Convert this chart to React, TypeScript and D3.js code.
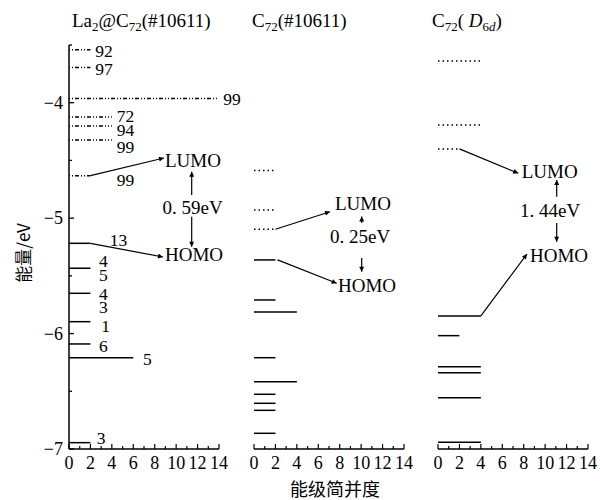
import * as d3 from "d3";

// energy levels: energy (eV), degeneracy, occupied?
const laLevelsE = [-3.542, -3.696, -3.964, -4.123, -4.201, -4.322, -4.632, -5.218, -5.434, -5.651, -5.897, -6.09, -6.209, -6.945];
const laLevelsG = [2, 2, 14, 4, 4, 4, 2, 2, 2, 2, 2, 2, 6, 2];
const laLevelsOcc = [false, false, false, false, false, false, false, true, true, true, true, true, true, true];

const c72LevelsE = [-4.588, -4.929, -5.096, -5.362, -5.709, -5.813, -6.209, -6.417, -6.526, -6.604, -6.665, -6.864];
const c72LevelsG = [2, 2, 2, 2, 2, 4, 2, 4, 2, 2, 2, 2];
const c72LevelsOcc = [false, false, false, true, true, true, true, true, true, true, true, true];

const d6dLevelsE = [-3.638, -4.192, -4.4, -5.847, -6.018, -6.287, -6.339, -6.555, -6.942];
const d6dLevelsG = [4, 4, 2, 4, 2, 4, 4, 4, 4];
const d6dLevelsOcc = [false, false, false, true, true, true, true, true, true];

// numbers written beside the La2@C72 levels (text, degeneracy axis pos, energy)
const laLabelText = ["92", "97", "99", "72", "94", "99", "99", "13", "4", "5", "4", "3", "1", "6", "5", "3"];
const laLabelG = [2.45, 2.45, 14.4, 4.45, 4.45, 4.45, 4.45, 3.8, 2.8, 2.8, 2.8, 2.8, 3.0, 2.8, 6.9, 2.6];
const laLabelE = [-3.551, -3.707, -3.967, -4.114, -4.236, -4.379, -4.669, -5.185, -5.367, -5.492, -5.653, -5.767, -5.932, -6.103, -6.216, -6.9];

const gapText = ["0. 59eV", "0. 25eV", "1. 44eV"];
const lumoIndex = [6, 2, 2];
const homoIndex = [7, 3, 3];

const xTicks = [0, 2, 4, 6, 8, 10, 12, 14];
const yTicks = [-7, -6, -5, -4];

const panelX0 = [69, 254, 438];
const panelW = 150;

const serif = "'Liberation Serif', 'DejaVu Serif', serif";
const cjk = "'Noto Sans CJK SC', sans-serif";

const y = d3.scaleLinear().domain([-7, -3.5]).range([449, 45]);
const xs = panelX0.map(x0 => d3.scaleLinear().domain([0, 14]).range([x0, x0 + panelW]));

const panels = [
  { e: laLevelsE, g: laLevelsG, occ: laLevelsOcc, dash: "1,2,1,2,4,2" },
  { e: c72LevelsE, g: c72LevelsG, occ: c72LevelsOcc, dash: "1.5,3" },
  { e: d6dLevelsE, g: d6dLevelsG, occ: d6dLevelsOcc, dash: "1.5,3" },
];

// where the LUMO / gap / HOMO annotations sit (pixels)
const notes = [
  { lumo: [165, 166.5], lumoTip: [164, 158], homo: [165, 261], homoTip: [163, 257], gap: [162.5, 214], ax: 191.7, up: [195, 171.7], down: [216.7, 246.7], homoFromG: 2, lumoFromG: 2 },
  { lumo: [335, 210], lumoTip: [330, 211.7], homo: [338, 291.5], homoTip: [336.7, 283.3], gap: [330, 243], ax: 361.7, up: [223, 216.5], down: [258, 271.7], homoFromG: 2.2, lumoFromG: 2 },
  { lumo: [521.7, 178], lumoTip: [518.3, 173.3], homo: [530, 261.5], homoTip: [527, 254], gap: [520, 216.7], ax: 556.7, up: [196.7, 180], down: [223, 241.7], homoFromG: 4, lumoFromG: 2 },
];

const App = () => {
  return (
    <svg width={600} height={500} style={{ position: "absolute", left: 0, top: 0, background: "#fff" }}>
      <defs>
        <marker id="ah" viewBox="0 0 10 10" refX="10" refY="5" markerWidth="8" markerHeight="5"
          markerUnits="userSpaceOnUse" orient="auto">
          <path d="M0,0 L10,5 L0,10 z" fill="#000" />
        </marker>
      </defs>

      {/* titles */}
      <text x={72} y={27} fontFamily={serif} fontSize={19}>
        La<tspan fontSize={13} dy={4}>2</tspan><tspan dy={-4}>@C</tspan>
        <tspan fontSize={13} dy={4}>72</tspan><tspan dy={-4}>(#10611)</tspan>
      </text>
      <text x={252} y={27} fontFamily={serif} fontSize={19}>
        C<tspan fontSize={13} dy={4}>72</tspan><tspan dy={-4}>(#10611)</tspan>
      </text>
      <text x={432} y={27} fontFamily={serif} fontSize={19}>
        C<tspan fontSize={13} dy={4}>72</tspan><tspan dy={-4}>( </tspan>
        <tspan fontStyle="italic">D</tspan>
        <tspan fontSize={13} dy={4}>6</tspan><tspan fontSize={13} fontStyle="italic">d</tspan>
        <tspan dy={-4}>)</tspan>
      </text>

      {/* y axis (left panel only) */}
      <line x1={69} x2={69} y1={y(-7)} y2={y(-3.5)} stroke="#000" strokeWidth={1.5} />
      {d3.range(-7, -3.4, 0.5).map(t => (
        <line key={t} x1={69} x2={Number.isInteger(t) ? 74 : 72} y1={y(t)} y2={y(t)} stroke="#000" strokeWidth={1.3} />
      ))}
      {yTicks.map(t => (
        <text key={t} x={63} y={y(t)} dy="0.35em" textAnchor="end" fontFamily={serif} fontSize={18}>
          {"\u2212" + Math.abs(t)}
        </text>
      ))}
      <text transform="translate(22,253) rotate(-90)" textAnchor="middle" dominantBaseline="central"
        fontFamily={cjk} fontSize={17}>能量/eV</text>

      {panels.map((p, pi) => {
        const x = xs[pi];
        return (
          <g key={pi}>
            {/* x axis */}
            <line x1={x(0)} x2={x(14)} y1={449} y2={449} stroke="#000" strokeWidth={1.5} />
            {d3.range(0, 15).map(t => (
              <line key={t} x1={x(t)} x2={x(t)} y1={449} y2={t % 2 === 0 ? 444 : 446}
                stroke="#000" strokeWidth={1.2} />
            ))}
            {xTicks.map(t => (
              <text key={t} x={x(t)} y={469} textAnchor="middle" fontFamily={serif} fontSize={18}>{t}</text>
            ))}
            {/* levels */}
            {p.e.map((e, i) => (
              <line key={i} x1={x(0)} x2={x(p.g[i])} y1={y(e)} y2={y(e)} stroke="#000"
                strokeWidth={1.5} strokeDasharray={p.occ[i] ? undefined : p.dash} />
            ))}
          </g>
        );
      })}

      {/* degeneracy numbers, left panel */}
      {laLabelText.map((t, i) => (
        <text key={i} x={xs[0](laLabelG[i])} y={y(laLabelE[i])} dy="0.35em" fontFamily={serif} fontSize={17.5}>{t}</text>
      ))}

      {/* LUMO / HOMO annotations */}
      {notes.map((n, pi) => {
        const x = xs[pi];
        const p = panels[pi];
        const le = p.e[lumoIndex[pi]];
        const he = p.e[homoIndex[pi]];
        return (
          <g key={pi} fontFamily={serif} fontSize={19}>
            <line x1={x(n.lumoFromG)} y1={y(le)} x2={n.lumoTip[0]} y2={n.lumoTip[1]} stroke="#000" strokeWidth={1.2} markerEnd="url(#ah)" />
            <line x1={x(n.homoFromG)} y1={y(he)} x2={n.homoTip[0]} y2={n.homoTip[1]} stroke="#000" strokeWidth={1.2} markerEnd="url(#ah)" />
            <text x={n.lumo[0]} y={n.lumo[1]}>LUMO</text>
            <text x={n.homo[0]} y={n.homo[1]}>HOMO</text>
            <text x={n.gap[0]} y={n.gap[1]}>{gapText[pi]}</text>
            <line x1={n.ax} x2={n.ax} y1={n.up[0]} y2={n.up[1]} stroke="#000" strokeWidth={1.2} markerEnd="url(#ah)" />
            <line x1={n.ax} x2={n.ax} y1={n.down[0]} y2={n.down[1]} stroke="#000" strokeWidth={1.2} markerEnd="url(#ah)" />
          </g>
        );
      })}

      <text x={335} y={488} textAnchor="middle" dominantBaseline="central" fontFamily={cjk} fontSize={18}>能级简并度</text>
    </svg>
  );
};

export default App;
